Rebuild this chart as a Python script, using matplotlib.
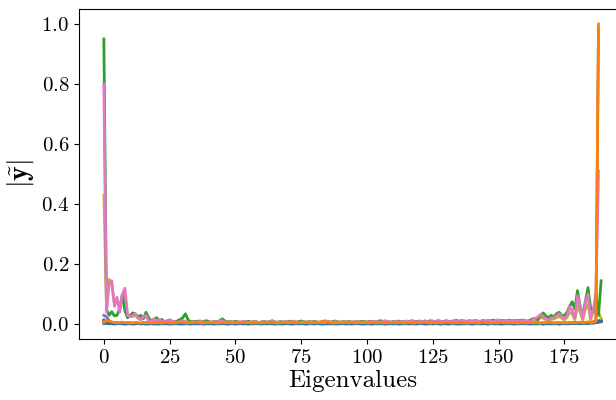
import numpy as np
import matplotlib
matplotlib.use("Agg")
import matplotlib.pyplot as plt

# |y~| spectra, one list per signal (index = eigenvalue number)
blue = [
    0.002, 0.003, 0.002, 0.002, 0.001, 0.002, 0.003, 0.002, 0.001, 0.002, 0.002, 0.001, 0.002, 0.003, 0.002, 0.002, 0.001, 0.002, 0.002, 0.001,
    0.002, 0.001, 0.002, 0.003, 0.002, 0.001, 0.002, 0.002, 0.003, 0.002, 0.001, 0.002, 0.002, 0.001, 0.002, 0.003, 0.002, 0.002, 0.001, 0.002,
    0.003, 0.002, 0.001, 0.002, 0.002, 0.003, 0.002, 0.001, 0.002, 0.002, 0.001, 0.002, 0.003, 0.002, 0.002, 0.001, 0.002, 0.002, 0.003, 0.002,
    0.001, 0.002, 0.002, 0.003, 0.002, 0.001, 0.002, 0.002, 0.001, 0.003, 0.002, 0.002, 0.001, 0.002, 0.003, 0.002, 0.002, 0.001, 0.002, 0.002,
    0.002, 0.003, 0.002, 0.001, 0.002, 0.002, 0.003, 0.002, 0.001, 0.002, 0.002, 0.003, 0.002, 0.002, 0.001, 0.002, 0.003, 0.002, 0.002, 0.001,
    0.002, 0.002, 0.001, 0.002, 0.003, 0.002, 0.002, 0.001, 0.002, 0.002, 0.003, 0.002, 0.001, 0.002, 0.002, 0.003, 0.002, 0.002, 0.001, 0.002,
    0.003, 0.002, 0.002, 0.001, 0.002, 0.002, 0.003, 0.002, 0.001, 0.002, 0.002, 0.001, 0.003, 0.002, 0.002, 0.001, 0.002, 0.003, 0.002, 0.002,
    0.001, 0.002, 0.002, 0.003, 0.002, 0.002, 0.001, 0.002, 0.003, 0.002, 0.002, 0.001, 0.002, 0.002, 0.003, 0.002, 0.001, 0.002, 0.002, 0.003,
    0.002, 0.002, 0.001, 0.002, 0.003, 0.002, 0.002, 0.001, 0.002, 0.002, 0.003, 0.002, 0.002, 0.001, 0.002, 0.003, 0.002, 0.002, 0.003, 0.002,
    0.003, 0.002, 0.003, 0.004, 0.003, 0.005, 0.004, 0.006, 0.008, 0.012,
]
orange = [
    0.006, 0.014, 0.011, 0.008, 0.006, 0.005, 0.006, 0.007, 0.005, 0.006, 0.004, 0.005, 0.006, 0.005, 0.004, 0.006, 0.005, 0.006, 0.004, 0.005,
    0.006, 0.005, 0.004, 0.006, 0.007, 0.005, 0.004, 0.005, 0.006, 0.008, 0.006, 0.005, 0.004, 0.006, 0.005, 0.007, 0.006, 0.005, 0.004, 0.006,
    0.007, 0.005, 0.006, 0.004, 0.005, 0.006, 0.008, 0.006, 0.005, 0.004, 0.006, 0.005, 0.007, 0.006, 0.005, 0.006, 0.004, 0.005, 0.006, 0.005,
    0.004, 0.006, 0.005, 0.007, 0.006, 0.005, 0.004, 0.006, 0.005, 0.006, 0.008, 0.006, 0.005, 0.004, 0.006, 0.005, 0.006, 0.007, 0.005, 0.004,
    0.006, 0.005, 0.006, 0.009, 0.012, 0.008, 0.006, 0.005, 0.004, 0.006, 0.005, 0.007, 0.006, 0.005, 0.006, 0.004, 0.005, 0.006, 0.008, 0.006,
    0.005, 0.004, 0.006, 0.005, 0.006, 0.007, 0.005, 0.004, 0.006, 0.005, 0.006, 0.005, 0.007, 0.006, 0.004, 0.005, 0.006, 0.005, 0.004, 0.006,
    0.005, 0.006, 0.007, 0.005, 0.004, 0.006, 0.005, 0.006, 0.004, 0.005, 0.007, 0.006, 0.005, 0.004, 0.006, 0.005, 0.006, 0.005, 0.004, 0.006,
    0.005, 0.006, 0.004, 0.005, 0.007, 0.006, 0.005, 0.004, 0.006, 0.005, 0.006, 0.007, 0.005, 0.004, 0.006, 0.005, 0.006, 0.004, 0.005, 0.006,
    0.005, 0.004, 0.006, 0.005, 0.006, 0.005, 0.004, 0.006, 0.005, 0.007, 0.006, 0.005, 0.004, 0.006, 0.005, 0.006, 0.004, 0.005, 0.006, 0.005,
    0.006, 0.007, 0.005, 0.006, 0.008, 0.006, 0.007, 0.010, 1.000,
]
green = [
    0.950, 0.050, 0.030, 0.042, 0.028, 0.030, 0.052, 0.098, 0.045, 0.022, 0.030, 0.038, 0.034, 0.025, 0.030, 0.018, 0.040, 0.022, 0.012, 0.015,
    0.022, 0.012, 0.016, 0.009, 0.008, 0.014, 0.010, 0.007, 0.012, 0.016, 0.022, 0.035, 0.015, 0.008, 0.010, 0.009, 0.011, 0.008, 0.010, 0.012,
    0.009, 0.007, 0.010, 0.008, 0.012, 0.018, 0.011, 0.008, 0.009, 0.007, 0.010, 0.008, 0.006, 0.009, 0.008, 0.010, 0.007, 0.009, 0.008, 0.006,
    0.008, 0.010, 0.007, 0.009, 0.012, 0.008, 0.007, 0.009, 0.008, 0.006, 0.009, 0.010, 0.008, 0.007, 0.009, 0.011, 0.008, 0.007, 0.009, 0.008,
    0.010, 0.008, 0.007, 0.009, 0.008, 0.010, 0.007, 0.009, 0.011, 0.008, 0.007, 0.009, 0.008, 0.010, 0.008, 0.007, 0.009, 0.008, 0.010, 0.009,
    0.008, 0.010, 0.009, 0.007, 0.009, 0.012, 0.010, 0.008, 0.009, 0.007, 0.010, 0.009, 0.011, 0.008, 0.009, 0.010, 0.008, 0.012, 0.010, 0.009,
    0.011, 0.009, 0.010, 0.008, 0.012, 0.010, 0.009, 0.011, 0.010, 0.008, 0.012, 0.010, 0.009, 0.011, 0.013, 0.010, 0.009, 0.011, 0.010, 0.012,
    0.010, 0.012, 0.011, 0.009, 0.013, 0.011, 0.010, 0.012, 0.014, 0.011, 0.010, 0.013, 0.012, 0.011, 0.014, 0.012, 0.011, 0.013, 0.012, 0.014,
    0.012, 0.010, 0.014, 0.018, 0.020, 0.015, 0.030, 0.038, 0.028, 0.022, 0.030, 0.025, 0.035, 0.040, 0.030, 0.028, 0.040, 0.060, 0.075, 0.050,
    0.112, 0.060, 0.030, 0.075, 0.122, 0.055, 0.040, 0.100, 0.030, 0.145,
]
red = [
    0.012, 0.008, 0.006, 0.005, 0.004, 0.005, 0.004, 0.003, 0.004, 0.005, 0.004, 0.003, 0.004, 0.004, 0.003, 0.004, 0.005, 0.004, 0.003, 0.004,
    0.004, 0.003, 0.004, 0.005, 0.004, 0.003, 0.004, 0.004, 0.005, 0.004, 0.003, 0.004, 0.004, 0.003, 0.005, 0.004, 0.004, 0.003, 0.004, 0.005,
    0.004, 0.003, 0.004, 0.004, 0.005, 0.004, 0.003, 0.004, 0.005, 0.004, 0.004, 0.003, 0.004, 0.005, 0.004, 0.003, 0.004, 0.004, 0.005, 0.004,
    0.003, 0.004, 0.005, 0.004, 0.004, 0.003, 0.004, 0.005, 0.004, 0.003, 0.004, 0.004, 0.005, 0.004, 0.003, 0.004, 0.005, 0.004, 0.004, 0.003,
    0.004, 0.005, 0.004, 0.003, 0.004, 0.004, 0.005, 0.004, 0.003, 0.004, 0.005, 0.004, 0.004, 0.003, 0.004, 0.005, 0.004, 0.003, 0.004, 0.004,
    0.005, 0.004, 0.003, 0.004, 0.004, 0.005, 0.004, 0.003, 0.004, 0.005, 0.004, 0.004, 0.003, 0.004, 0.005, 0.004, 0.003, 0.004, 0.004, 0.005,
    0.004, 0.003, 0.004, 0.005, 0.004, 0.004, 0.003, 0.004, 0.005, 0.004, 0.003, 0.004, 0.004, 0.005, 0.004, 0.003, 0.004, 0.005, 0.004, 0.004,
    0.003, 0.004, 0.005, 0.004, 0.003, 0.004, 0.004, 0.005, 0.004, 0.003, 0.004, 0.005, 0.004, 0.004, 0.003, 0.004, 0.005, 0.004, 0.003, 0.004,
    0.004, 0.005, 0.004, 0.003, 0.004, 0.005, 0.004, 0.004, 0.005, 0.004, 0.003, 0.004, 0.005, 0.004, 0.004, 0.005, 0.004, 0.005, 0.006, 0.005,
    0.005, 0.004, 0.006, 0.005, 0.007, 0.006, 0.008, 0.010, 0.012, 0.010,
]
purple = [
    0.030, 0.025, 0.012, 0.006, 0.004, 0.003, 0.004, 0.003, 0.002, 0.003, 0.004, 0.003, 0.002, 0.003, 0.003, 0.002, 0.003, 0.004, 0.003, 0.002,
    0.003, 0.002, 0.003, 0.004, 0.003, 0.002, 0.003, 0.003, 0.004, 0.003, 0.002, 0.003, 0.003, 0.002, 0.003, 0.004, 0.003, 0.003, 0.002, 0.003,
    0.004, 0.003, 0.002, 0.003, 0.003, 0.004, 0.003, 0.002, 0.003, 0.003, 0.002, 0.003, 0.004, 0.003, 0.003, 0.002, 0.003, 0.003, 0.004, 0.003,
    0.002, 0.003, 0.003, 0.004, 0.003, 0.002, 0.003, 0.003, 0.002, 0.004, 0.003, 0.003, 0.002, 0.003, 0.004, 0.003, 0.003, 0.002, 0.003, 0.003,
    0.003, 0.004, 0.003, 0.002, 0.003, 0.003, 0.004, 0.003, 0.002, 0.003, 0.003, 0.004, 0.003, 0.003, 0.002, 0.003, 0.004, 0.003, 0.003, 0.002,
    0.003, 0.003, 0.002, 0.003, 0.004, 0.003, 0.003, 0.002, 0.003, 0.003, 0.004, 0.003, 0.002, 0.003, 0.003, 0.004, 0.003, 0.003, 0.002, 0.003,
    0.004, 0.003, 0.003, 0.002, 0.003, 0.003, 0.004, 0.003, 0.002, 0.003, 0.003, 0.002, 0.004, 0.003, 0.003, 0.002, 0.003, 0.004, 0.003, 0.003,
    0.002, 0.003, 0.003, 0.004, 0.003, 0.003, 0.002, 0.003, 0.004, 0.003, 0.003, 0.002, 0.003, 0.003, 0.004, 0.003, 0.002, 0.003, 0.003, 0.004,
    0.003, 0.003, 0.002, 0.003, 0.004, 0.003, 0.003, 0.002, 0.003, 0.003, 0.004, 0.003, 0.003, 0.002, 0.003, 0.004, 0.003, 0.003, 0.004, 0.003,
    0.003, 0.004, 0.003, 0.005, 0.004, 0.006, 0.005, 0.007, 0.010, 0.015,
]
brown = [
    0.008, 0.005, 0.004, 0.003, 0.003, 0.002, 0.003, 0.002, 0.003, 0.002, 0.003, 0.002, 0.002, 0.003, 0.002, 0.003, 0.002, 0.002, 0.003, 0.002,
    0.003, 0.002, 0.002, 0.003, 0.002, 0.003, 0.002, 0.003, 0.002, 0.002, 0.003, 0.002, 0.003, 0.002, 0.002, 0.003, 0.002, 0.003, 0.002, 0.002,
    0.002, 0.003, 0.002, 0.002, 0.003, 0.002, 0.003, 0.002, 0.002, 0.003, 0.002, 0.003, 0.002, 0.003, 0.002, 0.002, 0.003, 0.002, 0.002, 0.003,
    0.003, 0.002, 0.003, 0.002, 0.002, 0.003, 0.002, 0.002, 0.003, 0.002, 0.003, 0.002, 0.002, 0.003, 0.002, 0.003, 0.002, 0.002, 0.003, 0.002,
    0.002, 0.003, 0.002, 0.003, 0.002, 0.002, 0.003, 0.002, 0.003, 0.002, 0.002, 0.003, 0.002, 0.002, 0.003, 0.002, 0.003, 0.002, 0.002, 0.003,
    0.003, 0.002, 0.002, 0.003, 0.002, 0.003, 0.002, 0.002, 0.003, 0.002, 0.002, 0.003, 0.002, 0.003, 0.002, 0.002, 0.003, 0.002, 0.003, 0.002,
    0.002, 0.003, 0.002, 0.002, 0.003, 0.002, 0.003, 0.002, 0.002, 0.003, 0.002, 0.003, 0.002, 0.002, 0.003, 0.002, 0.002, 0.003, 0.002, 0.003,
    0.003, 0.002, 0.003, 0.002, 0.002, 0.003, 0.002, 0.003, 0.002, 0.002, 0.003, 0.002, 0.003, 0.002, 0.002, 0.003, 0.002, 0.002, 0.003, 0.002,
    0.002, 0.003, 0.002, 0.003, 0.002, 0.002, 0.003, 0.002, 0.003, 0.002, 0.003, 0.002, 0.002, 0.003, 0.002, 0.003, 0.003, 0.002, 0.003, 0.003,
    0.004, 0.003, 0.004, 0.005, 0.004, 0.006, 0.005, 0.007, 0.009, 0.012,
]
pink = [
    0.800, 0.040, 0.140, 0.145, 0.060, 0.090, 0.040, 0.100, 0.120, 0.030, 0.025, 0.030, 0.035, 0.022, 0.015, 0.025, 0.030, 0.012, 0.010, 0.018,
    0.012, 0.016, 0.010, 0.008, 0.012, 0.015, 0.010, 0.008, 0.006, 0.010, 0.012, 0.008, 0.006, 0.007, 0.009, 0.006, 0.008, 0.010, 0.007, 0.006,
    0.008, 0.006, 0.009, 0.007, 0.010, 0.012, 0.008, 0.006, 0.007, 0.009, 0.006, 0.008, 0.007, 0.010, 0.008, 0.006, 0.007, 0.009, 0.008, 0.006,
    0.007, 0.009, 0.006, 0.008, 0.010, 0.007, 0.006, 0.008, 0.007, 0.009, 0.006, 0.008, 0.011, 0.008, 0.006, 0.007, 0.009, 0.007, 0.006, 0.008,
    0.009, 0.007, 0.006, 0.008, 0.007, 0.010, 0.008, 0.006, 0.009, 0.007, 0.008, 0.006, 0.007, 0.009, 0.007, 0.008, 0.010, 0.007, 0.006, 0.008,
    0.007, 0.009, 0.008, 0.010, 0.008, 0.007, 0.009, 0.012, 0.009, 0.007, 0.008, 0.010, 0.008, 0.007, 0.009, 0.011, 0.008, 0.010, 0.009, 0.008,
    0.010, 0.008, 0.012, 0.009, 0.008, 0.011, 0.009, 0.013, 0.010, 0.008, 0.011, 0.009, 0.010, 0.012, 0.009, 0.011, 0.014, 0.010, 0.009, 0.012,
    0.010, 0.013, 0.011, 0.009, 0.012, 0.010, 0.014, 0.011, 0.010, 0.012, 0.015, 0.011, 0.010, 0.013, 0.011, 0.012, 0.014, 0.011, 0.010, 0.012,
    0.010, 0.012, 0.008, 0.015, 0.020, 0.025, 0.033, 0.026, 0.018, 0.015, 0.020, 0.022, 0.028, 0.035, 0.026, 0.018, 0.030, 0.060, 0.045, 0.020,
    0.095, 0.060, 0.018, 0.070, 0.100, 0.020, 0.050, 0.085, 0.510,
]
gray = [
    0.010, 0.006, 0.004, 0.003, 0.003, 0.004, 0.003, 0.002, 0.003, 0.003, 0.004, 0.003, 0.002, 0.003, 0.003, 0.004, 0.003, 0.003, 0.002, 0.003,
    0.004, 0.003, 0.003, 0.002, 0.003, 0.004, 0.003, 0.003, 0.002, 0.003, 0.003, 0.004, 0.003, 0.002, 0.003, 0.003, 0.004, 0.003, 0.003, 0.002,
    0.003, 0.003, 0.004, 0.003, 0.002, 0.003, 0.003, 0.004, 0.003, 0.003, 0.002, 0.003, 0.004, 0.003, 0.003, 0.002, 0.003, 0.003, 0.004, 0.003,
    0.002, 0.003, 0.003, 0.004, 0.003, 0.003, 0.002, 0.003, 0.004, 0.003, 0.003, 0.002, 0.003, 0.003, 0.004, 0.003, 0.002, 0.003, 0.003, 0.004,
    0.003, 0.003, 0.002, 0.003, 0.004, 0.003, 0.003, 0.002, 0.003, 0.003, 0.004, 0.003, 0.002, 0.003, 0.003, 0.004, 0.003, 0.003, 0.002, 0.003,
    0.004, 0.003, 0.003, 0.002, 0.003, 0.003, 0.004, 0.003, 0.002, 0.003, 0.003, 0.004, 0.003, 0.003, 0.002, 0.003, 0.004, 0.003, 0.003, 0.002,
    0.003, 0.003, 0.004, 0.003, 0.002, 0.003, 0.003, 0.004, 0.003, 0.003, 0.002, 0.003, 0.004, 0.003, 0.003, 0.002, 0.003, 0.003, 0.004, 0.003,
    0.002, 0.003, 0.003, 0.004, 0.003, 0.003, 0.002, 0.003, 0.004, 0.003, 0.003, 0.002, 0.003, 0.003, 0.004, 0.003, 0.002, 0.003, 0.003, 0.004,
    0.003, 0.003, 0.002, 0.003, 0.004, 0.003, 0.003, 0.002, 0.003, 0.003, 0.004, 0.003, 0.003, 0.002, 0.003, 0.004, 0.003, 0.004, 0.005, 0.004,
    0.004, 0.003, 0.005, 0.004, 0.006, 0.005, 0.007, 0.009, 0.980,
]
olive = [
    0.430, 0.050, 0.150, 0.130, 0.070, 0.080, 0.050, 0.085, 0.100, 0.030, 0.028, 0.026, 0.030, 0.020, 0.016, 0.022, 0.026, 0.014, 0.012, 0.015,
    0.014, 0.012, 0.010, 0.008, 0.011, 0.013, 0.009, 0.007, 0.008, 0.010, 0.012, 0.009, 0.007, 0.008, 0.010, 0.008, 0.009, 0.011, 0.008, 0.007,
    0.007, 0.006, 0.008, 0.006, 0.009, 0.010, 0.007, 0.006, 0.006, 0.008, 0.006, 0.007, 0.006, 0.009, 0.007, 0.006, 0.006, 0.008, 0.007, 0.006,
    0.006, 0.008, 0.006, 0.007, 0.009, 0.006, 0.006, 0.007, 0.006, 0.008, 0.006, 0.007, 0.009, 0.007, 0.006, 0.006, 0.008, 0.006, 0.006, 0.007,
    0.008, 0.006, 0.006, 0.007, 0.006, 0.009, 0.007, 0.006, 0.008, 0.006, 0.007, 0.006, 0.006, 0.008, 0.006, 0.007, 0.009, 0.006, 0.006, 0.007,
    0.006, 0.008, 0.007, 0.009, 0.007, 0.006, 0.008, 0.010, 0.008, 0.006, 0.007, 0.009, 0.007, 0.006, 0.008, 0.009, 0.007, 0.009, 0.008, 0.007,
    0.009, 0.007, 0.010, 0.008, 0.007, 0.009, 0.008, 0.011, 0.009, 0.007, 0.009, 0.008, 0.009, 0.010, 0.008, 0.009, 0.012, 0.009, 0.008, 0.010,
    0.009, 0.011, 0.010, 0.008, 0.010, 0.009, 0.012, 0.010, 0.009, 0.010, 0.012, 0.010, 0.009, 0.011, 0.010, 0.010, 0.012, 0.010, 0.009, 0.010,
    0.008, 0.010, 0.007, 0.012, 0.015, 0.018, 0.022, 0.020, 0.015, 0.012, 0.016, 0.018, 0.022, 0.026, 0.020, 0.015, 0.022, 0.040, 0.035, 0.015,
    0.060, 0.040, 0.015, 0.050, 0.065, 0.015, 0.045, 0.060, 0.040, 0.020,
]
cyan = [
    0.015, 0.006, 0.004, 0.003, 0.002, 0.002, 0.003, 0.002, 0.001, 0.002, 0.002, 0.001, 0.002, 0.002, 0.001, 0.002, 0.002, 0.001, 0.002, 0.002,
    0.001, 0.002, 0.002, 0.001, 0.002, 0.002, 0.001, 0.002, 0.002, 0.001, 0.002, 0.002, 0.001, 0.002, 0.002, 0.001, 0.002, 0.002, 0.001, 0.002,
    0.002, 0.001, 0.002, 0.002, 0.001, 0.002, 0.002, 0.001, 0.002, 0.002, 0.001, 0.002, 0.002, 0.001, 0.002, 0.002, 0.001, 0.002, 0.002, 0.001,
    0.002, 0.002, 0.001, 0.002, 0.002, 0.001, 0.002, 0.002, 0.001, 0.002, 0.002, 0.001, 0.002, 0.002, 0.001, 0.002, 0.002, 0.001, 0.002, 0.002,
    0.001, 0.002, 0.002, 0.001, 0.002, 0.002, 0.001, 0.002, 0.002, 0.001, 0.002, 0.002, 0.001, 0.002, 0.002, 0.001, 0.002, 0.002, 0.001, 0.002,
    0.002, 0.001, 0.002, 0.002, 0.001, 0.002, 0.002, 0.001, 0.002, 0.002, 0.001, 0.002, 0.002, 0.001, 0.002, 0.002, 0.001, 0.002, 0.002, 0.001,
    0.002, 0.002, 0.001, 0.002, 0.002, 0.001, 0.002, 0.002, 0.001, 0.002, 0.002, 0.001, 0.002, 0.002, 0.001, 0.002, 0.002, 0.001, 0.002, 0.002,
    0.001, 0.002, 0.002, 0.001, 0.002, 0.002, 0.001, 0.002, 0.002, 0.001, 0.002, 0.002, 0.001, 0.002, 0.002, 0.001, 0.002, 0.002, 0.001, 0.002,
    0.002, 0.001, 0.002, 0.002, 0.001, 0.002, 0.002, 0.001, 0.002, 0.002, 0.001, 0.002, 0.002, 0.001, 0.002, 0.002, 0.001, 0.002, 0.003, 0.002,
    0.003, 0.002, 0.003, 0.004, 0.003, 0.004, 0.005, 0.005, 0.006, 0.008,
]

# drawing order: pink and orange end up on top, as in the reference
series = [cyan, red, purple, brown, gray, blue, olive, green, pink, orange]
colors = ["tab:cyan", "tab:red", "tab:purple", "tab:brown", "tab:gray",
          "tab:blue", "tab:olive", "tab:green", "tab:pink", "tab:orange"]
for s, n in zip(series, [190, 190, 190, 190, 189, 190, 190, 190, 189, 189]):
    assert len(s) == n, (len(s), n)

plt.rcParams['font.family'] = 'serif'
plt.rcParams['font.serif'] = ['cmr10']
plt.rcParams['mathtext.fontset'] = 'cm'
plt.rcParams['axes.formatter.use_mathtext'] = True
plt.rcParams['axes.unicode_minus'] = False

fig = plt.figure(figsize=(6.16, 4.0), dpi=100)
# axes runs past the right edge of the canvas, as in the reference
ax = fig.add_axes([79 / 616, 61 / 400, 547 / 616, 330 / 400])

for s, c in zip(series, colors):
    x = np.arange(len(s))
    ax.plot(x, s, color=c, linewidth=2)

ax.set_xticks([0, 25, 50, 75, 100, 125, 150, 175])
ax.set_yticks([0.0, 0.2, 0.4, 0.6, 0.8, 1.0])
ax.tick_params(labelsize=15)
ax.set_xlabel("Eigenvalues", fontsize=18, labelpad=2)
ax.set_ylabel(r"$|\tilde{\mathbf{y}}|$", fontsize=20)

fig.savefig("out.png", dpi=100)
